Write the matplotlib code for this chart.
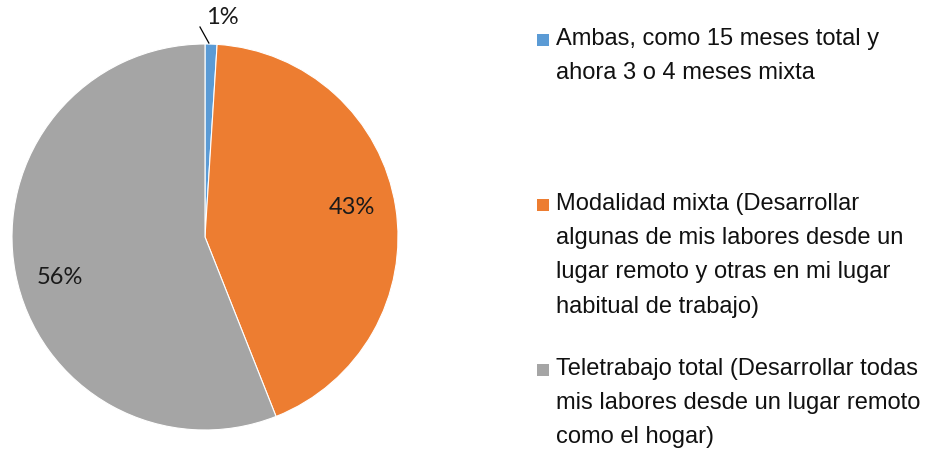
import matplotlib
matplotlib.use("Agg")
from matplotlib import pyplot as plt
from matplotlib.patches import Rectangle

# datos del grafico
categorias = ["Ambas, como 15 meses total y\nahora 3 o 4 meses mixta",
              "Modalidad mixta (Desarrollar\nalgunas de mis labores desde un\nlugar remoto y otras en mi lugar\nhabitual de trabajo)",
              "Teletrabajo total (Desarrollar todas\nmis labores desde un lugar remoto\ncomo el hogar)"]
valores = [1, 43, 56]
etiquetas = ["1%", "43%", "56%"]
colores = ["#5B9BD5", "#ED7D31", "#A5A5A5"]

W, H = 930, 455
fig = plt.figure(figsize=(W / 100, H / 100), dpi=100)

# pie: centro (205, 237) px, radio 193 px
cx, cy, r = 205, 237, 193
ax = fig.add_axes([(cx - r) / W, (H - cy - r) / H, 2 * r / W, 2 * r / H])
wedges, _ = ax.pie(valores, colors=colores, startangle=90, counterclock=False,
                   radius=1, wedgeprops=dict(edgecolor="white", linewidth=0.8))
ax.set_xlim(-1, 1)
ax.set_ylim(-1, 1)
ax.set_aspect("auto")
ax.axis("off")

pct_font = dict(family=["Lato", "DejaVu Sans"], fontsize=17, color="#1a1a1a")
ax.text(0.76, 0.155, etiquetas[1], ha="center", va="center", **pct_font)
ax.text(-0.75, -0.21, etiquetas[2], ha="center", va="center", **pct_font)
ax.text(0.09, 1.135, etiquetas[0], ha="center", va="center", clip_on=False, **pct_font)
# linea guia del 1%
ax.plot([-0.026, 0.02], [1.088, 1.005], color="black", lw=0.9, clip_on=False)

# leyenda manual
tops = [28, 193, 358]
for cat, col, top in zip(categorias, colores, tops):
    fig.patches.append(Rectangle((537 / W, 1 - (top + 18) / H), 12 / W, 12 / H,
                                 transform=fig.transFigure, facecolor=col,
                                 edgecolor="none"))
    fig.text(556 / W, 1 - top / H, cat, ha="left", va="top",
             family=["Liberation Sans", "DejaVu Sans"], fontsize=17,
             linespacing=1.72, color="#111111")

fig.savefig("out.png", dpi=100)
